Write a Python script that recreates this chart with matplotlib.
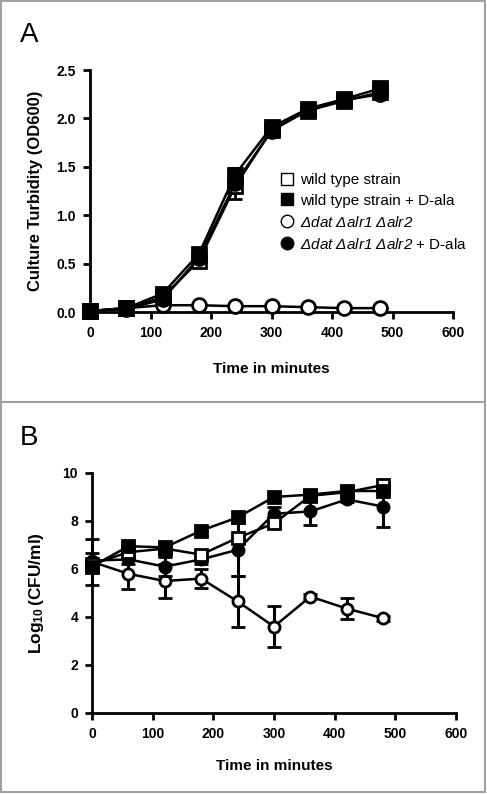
import matplotlib
matplotlib.use("Agg")
import matplotlib.pyplot as plt
from matplotlib.patches import Rectangle
from matplotlib.lines import Line2D

plt.rcParams["font.family"] = ["Liberation Sans", "DejaVu Sans"]
plt.rcParams["mathtext.fontset"] = "custom"
plt.rcParams["mathtext.rm"] = "Liberation Sans:italic"
plt.rcParams["mathtext.it"] = "Liberation Sans:italic"
plt.rcParams["mathtext.bf"] = "Liberation Sans:bold"

# ------------------------------------------------------------------
# data
# ------------------------------------------------------------------
time = [0, 60, 120, 180, 240, 300, 360, 420, 480]

# panel A: OD600
od_wt = [0.01, 0.04, 0.15, 0.53, 1.30, 1.88, 2.08, 2.18, 2.27]
od_wt_dala = [0.01, 0.04, 0.19, 0.60, 1.42, 1.91, 2.10, 2.20, 2.31]
od_ko = [0.01, 0.04, 0.07, 0.07, 0.06, 0.06, 0.05, 0.04, 0.04]
od_ko_dala = [0.01, 0.03, 0.13, 0.56, 1.33, 1.87, 2.09, 2.19, 2.25]
od_ko_dala_err = [0.01, 0.01, 0.02, 0.03, 0.16, 0.03, 0.02, 0.02, 0.03]

# panel B: log10 CFU/ml
cfu_wt = [6.2, 6.7, 6.85, 6.6, 7.3, 7.9, 9.05, 9.2, 9.5]
cfu_wt_dala = [6.1, 6.95, 6.9, 7.6, 8.15, 9.0, 9.1, 9.25, 9.25]
cfu_ko = [6.3, 5.8, 5.5, 5.6, 4.65, 3.6, 4.85, 4.35, 3.95]
cfu_ko_err = [0.95, 0.65, 0.7, 0.4, 1.05, 0.85, 0.1, 0.45, 0.1]
cfu_ko_dala = [6.35, 6.4, 6.1, 6.4, 6.8, 8.3, 8.4, 8.9, 8.6]
cfu_ko_dala_err = [0.3, 0.2, 0.4, 0.2, 1.1, 0.3, 0.55, 0.1, 0.85]

labels = [
    "wild type strain",
    "wild type strain + D-ala",
    r"$Δdat$ $Δalr1$ $Δalr2$",
    r"$Δdat$ $Δalr1$ $Δalr2$ + D-ala",
]

fig = plt.figure(figsize=(4.87, 7.94), dpi=100)

# panel frames
fig.patches.append(Rectangle((1 / 487, 2 / 794), 484 / 487, 791 / 794, transform=fig.transFigure,
                             fill=False, edgecolor="#a0a0a0", linewidth=1.5))
fig.add_artist(Line2D([1 / 487, 485 / 487], [1 - 402 / 794] * 2, transform=fig.transFigure,
                      color="#a0a0a0", linewidth=1.5))


def style_axes(ax, xpad):
    for s in ["top", "right"]:
        ax.spines[s].set_visible(False)
    for s in ["left", "bottom"]:
        ax.spines[s].set_linewidth(2)
    ax.tick_params(width=2, length=5, labelsize=10, pad=5)
    for t in ax.get_xticklabels() + ax.get_yticklabels():
        t.set_fontweight("bold")
    ax.set_xlabel("Time in minutes", fontsize=11, fontweight="bold", labelpad=xpad)


# ------------------------------------------------------------------
# panel A
# ------------------------------------------------------------------
axA = fig.add_axes([90 / 487, 1 - 312 / 794, 363 / 487, 242 / 794])
ms = 10
kw = dict(color="black", lw=1.8, mew=2, ms=ms, clip_on=False)
axA.plot(time, od_ko, marker="o", mfc="white", **kw, zorder=3)
axA.errorbar(time, od_ko_dala, yerr=od_ko_dala_err, marker="o", mfc="black",
             capsize=5, elinewidth=2, capthick=2, **kw, zorder=4)
axA.plot(time, od_wt, marker="s", mfc="white", **kw, zorder=4)
axA.plot(time, od_wt_dala, marker="s", mfc="black", **kw, zorder=5)
axA.set_xlim(0, 600)
axA.set_ylim(0, 2.5)
axA.set_xticks(range(0, 601, 100))
axA.set_yticks([0.0, 0.5, 1.0, 1.5, 2.0, 2.5])
axA.set_yticklabels(["0.0", "0.5", "1.0", "1.5", "2.0", "2.5"])
axA.set_ylabel("Culture Turbidity (OD600)", fontsize=12, fontweight="bold", labelpad=10)
style_axes(axA, 16)

handles = [
    Line2D([], [], ls="none", marker="s", mfc="white", mec="black", mew=1, ms=9),
    Line2D([], [], ls="none", marker="s", mfc="black", mec="black", mew=1, ms=9),
    Line2D([], [], ls="none", marker="o", mfc="white", mec="black", mew=1, ms=9),
    Line2D([], [], ls="none", marker="o", mfc="black", mec="black", mew=1, ms=9),
]
axA.legend(handles, labels, loc="upper left", bbox_to_anchor=(0.51, 0.60), frameon=False,
           fontsize=11, handlelength=0.7, handletextpad=0.55, labelspacing=0.45,
           borderaxespad=0)

fig.text(20 / 487, 1 - 35 / 794, "A", fontsize=20, va="center", ha="left")

# ------------------------------------------------------------------
# panel B
# ------------------------------------------------------------------
axB = fig.add_axes([92 / 487, 1 - 713 / 794, 364 / 487, 240 / 794])
ms = 8
kw = dict(color="black", lw=1.8, mew=2, ms=ms, clip_on=False, capsize=5,
          elinewidth=2.2, capthick=2.2)
axB.errorbar(time, cfu_ko, yerr=cfu_ko_err, marker="o", mfc="white", **kw, zorder=3)
axB.errorbar(time, cfu_ko_dala, yerr=cfu_ko_dala_err, marker="o", mfc="black", **kw, zorder=4)
axB.plot(time, cfu_wt, marker="s", mfc="white", color="black", lw=1.8, mew=2, ms=ms,
         clip_on=False, zorder=5)
axB.plot(time, cfu_wt_dala, marker="s", mfc="black", color="black", lw=1.8, mew=2, ms=ms,
         clip_on=False, zorder=5)
axB.set_xlim(0, 600)
axB.set_ylim(0, 10)
axB.set_xticks(range(0, 601, 100))
axB.set_yticks(range(0, 11, 2))
axB.set_ylabel(r"$\mathbf{Log_{10}\,(CFU/ml)}$", fontsize=12.5, labelpad=12)
style_axes(axB, 13)

fig.text(20 / 487, 1 - 438 / 794, "B", fontsize=20, va="center", ha="left")

fig.savefig("out.png", dpi=100)
